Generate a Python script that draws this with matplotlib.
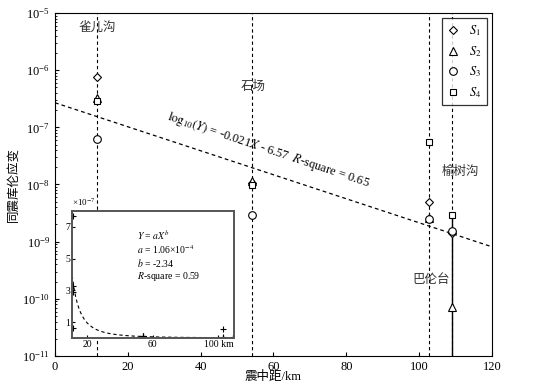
"""Coseismic Coulomb strain vs epicentral distance, with power-law inset."""

import matplotlib

matplotlib.use("Agg")
import matplotlib.pyplot as plt
import numpy as np

plt.rcParams["font.family"] = ["Liberation Serif", "Noto Sans CJK SC"]
plt.rcParams["mathtext.fontset"] = "stix"

# epicentral distance (km) of the four sites
DIST = [11.6, 54.2, 102.7, 109.0]
SITES = ["雀儿沟", "石场", "巴伦台", "榆树沟"]

# strain per component, one value per site
S1 = [7.7e-7, 1.05e-8, 4.9e-9, 1.4e-9]
S2 = [3.3e-7, 1.15e-8, 2.6e-9, 7.2e-11]
S3 = [6.3e-8, 2.9e-9, 2.5e-9, 1.55e-9]
S4 = [2.9e-7, 9.8e-9, 5.5e-8, 2.9e-9]

# fitted models shown in the figure
LIN_SLOPE, LIN_ICPT = -0.021, -6.57
POW_A, POW_B = 1.06e-4, -2.34

SERIES = (
    ("D", r"$S_1$", S1),
    ("^", r"$S_2$", S2),
    ("o", r"$S_3$", S3),
    ("s", r"$S_4$", S4),
)

fig = plt.figure(figsize=(5.38, 3.90), dpi=100)
ax = fig.add_axes([0.1022, 0.0872, 0.8123, 0.8795])

for d in DIST:
    ax.axvline(d, color="black", lw=0.8, ls=(0, (3, 2.5)), zorder=1)
# solid stem below the last site
ax.plot([DIST[3], DIST[3]], [1e-11, S4[3]], color="black", lw=1.0, zorder=1)

for marker, label, vals in SERIES:
    ms = 4.5 if marker == "D" else 5.5
    if marker == "s":
        ms = 5
    ax.plot(DIST, vals, ls="none", marker=marker, ms=ms, mfc="white",
            mec="black", mew=0.8, label=label, zorder=3)

xfit = np.linspace(0, 120, 50)
ax.plot(xfit, 10 ** (LIN_SLOPE * xfit + LIN_ICPT), color="black", lw=0.9,
        ls=(0, (3, 2.5)), zorder=2)
ax.text(58.5, 4.0e-8,
        r"$\mathrm{log}_{10}(Y)$ = -0.021$X$ - 6.57  $R$-square = 0.65",
        rotation=-18.5, rotation_mode="anchor", ha="center", va="center",
        fontsize=9)

ax.set_yscale("log")
ax.set_xlim(0, 120)
ax.set_ylim(1e-11, 1e-5)
ax.set_xticks([0, 20, 40, 60, 80, 100, 120])
ax.tick_params(which="both", direction="in", labelsize=9)
ax.tick_params(which="major", length=3)
ax.tick_params(which="minor", length=1.5)
ax.set_xlabel("震中距/km", fontsize=9, labelpad=-1)
ax.set_ylabel("同震库伦应变", fontsize=9, labelpad=2)

label_pos = [(11.6, 5.5e-6), (54.5, 5.2e-7), (103.2, 2.1e-10), (111.2, 1.66e-8)]
for name, (lx, ly) in zip(SITES, label_pos):
    ax.text(lx, ly, name, ha="center", va="center", fontsize=9, color="#333333")

leg = ax.legend(loc="upper right", frameon=True, fancybox=False, fontsize=9,
                handlelength=0.8, handletextpad=0.9, labelspacing=0.45,
                borderpad=0.45, borderaxespad=0.4)
leg.get_frame().set_edgecolor("black")
leg.get_frame().set_linewidth(0.9)

# inset: linear scale, power-law fit
ins = fig.add_axes([0.1338, 0.1333, 0.3011, 0.3256])
ally = [v * 1e7 for _, _, vals in SERIES for v in vals]
ins.plot(DIST * 4, ally, ls="none", marker="+", ms=5, mew=0.8, color="black")
xp = np.linspace(10.5, 110, 200)
ins.plot(xp, POW_A * xp ** POW_B * 1e7, color="black", lw=0.8,
         ls=(0, (3, 2.5)))
ins.set_xlim(10.8, 109.5)
ins.set_ylim(0, 8)
ins.set_xticks([20, 60, 100])
ins.set_xticklabels(["20", "60", "100 km"])
ins.set_yticks([1, 3, 5, 7])
ins.tick_params(direction="in", labelsize=7, length=2, pad=1.5)
for sp in ins.spines.values():
    sp.set_color("#555555")
    sp.set_linewidth(1.4)
ins.text(0.0, 1.02, r"×10$^{-7}$", transform=ins.transAxes, fontsize=6.5,
         ha="left", va="bottom")
ins.text(0.40, 0.86,
         "$Y$ = $aX^b$\n$a$ = 1.06×10$^{-4}$\n$b$ = -2.34\n$R$-square = 0.59",
         transform=ins.transAxes, fontsize=7, ha="left", va="top",
         linespacing=1.1)

fig.savefig("out.png", dpi=100)
